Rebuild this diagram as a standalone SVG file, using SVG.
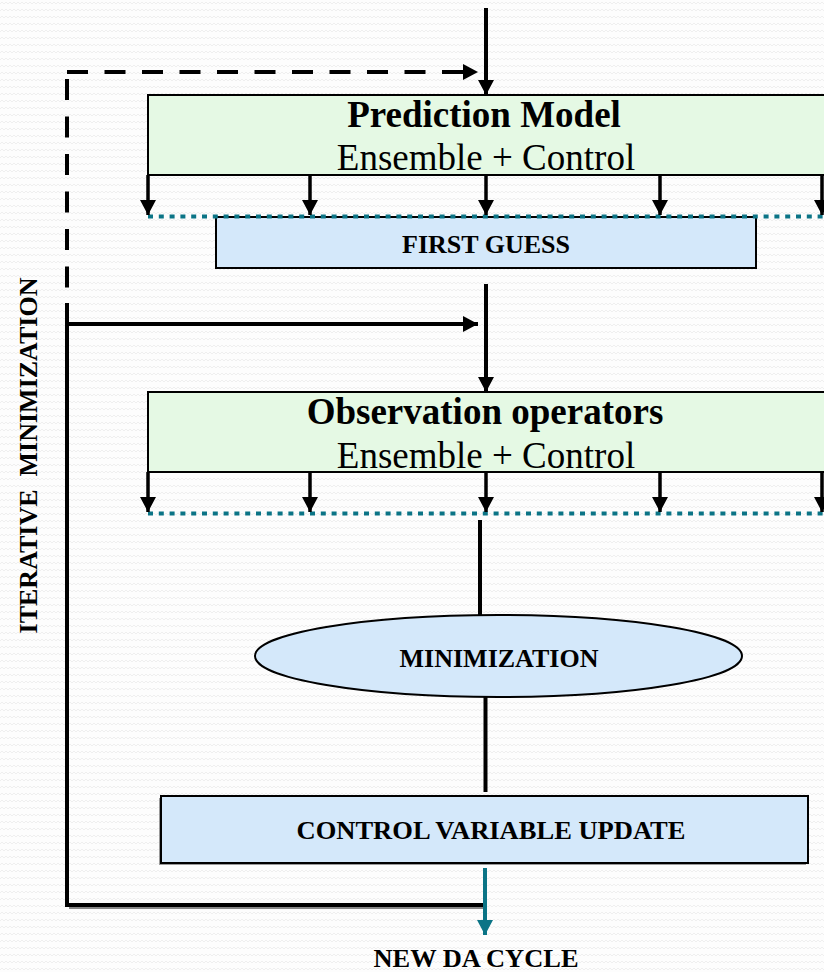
<svg xmlns="http://www.w3.org/2000/svg" width="824" height="972" viewBox="0 0 824 972">
  <defs>
    <pattern id="bgweave" width="8" height="7" patternUnits="userSpaceOnUse">
      <rect width="8" height="7" fill="#fdfdfd"/>
      <path d="M0,4 L2,2 L4,4 L6,2 L8,4" fill="none" stroke="#efefef" stroke-width="1"/>
    </pattern>
    <marker id="head" viewBox="0 0 15 16" refX="15" refY="8" markerWidth="15" markerHeight="16" markerUnits="userSpaceOnUse" orient="auto">
      <path d="M0,0 L15,8 L0,16 Z" fill="#000"/>
    </marker>
    <marker id="headTeal" viewBox="0 0 15 16" refX="15" refY="8" markerWidth="15" markerHeight="16" markerUnits="userSpaceOnUse" orient="auto">
      <path d="M0,0 L15,8 L0,16 Z" fill="#0b7486"/>
    </marker>
  </defs>
  <style>
    .title { font-family: "Liberation Serif", "Times New Roman", serif; font-weight: bold; font-size: 37px; fill: #000; }
    .sub { font-family: "Liberation Serif", "Times New Roman", serif; font-size: 37px; fill: #000; }
    .lbl { font-family: "Liberation Serif", "Times New Roman", serif; font-weight: bold; font-size: 26px; fill: #000; }
    .green { fill: #e5f9e4; stroke: #000; stroke-width: 2; }
    .blue { fill: #d4e8fa; stroke: #000; stroke-width: 2; }
    .wire { fill: none; stroke: #000; stroke-width: 4; }
    .dash { fill: none; stroke: #000; stroke-width: 4; stroke-dasharray: 21 16.5; }
    .dots { fill: none; stroke: #0b7486; stroke-width: 4; stroke-dasharray: 5 5.8; }
    .fan { fill: none; stroke: #000; stroke-width: 3.5; marker-end: url(#head); }
  </style>

  <rect width="824" height="972" fill="url(#bgweave)"/>

  <!-- side label -->
  <text class="lbl" transform="translate(37,455.5) rotate(-90)" text-anchor="middle" xml:space="preserve">ITERATIVE  MINIMIZATION</text>

  <g id="first-guess">
    <rect class="blue" x="216" y="217" width="540" height="51"/>
    <text class="lbl" x="486" y="253" text-anchor="middle">FIRST GUESS</text>
  </g>

  <g id="prediction-model">
    <rect class="green" x="148" y="95" width="690" height="80"/>
    <text class="title" x="484" y="127" text-anchor="middle">Prediction Model</text>
    <text class="sub" x="486" y="170" text-anchor="middle">Ensemble + Control</text>
  </g>

  <g id="observation-operators">
    <rect class="green" x="148" y="392" width="690" height="80"/>
    <text class="title" x="485" y="424" text-anchor="middle">Observation operators</text>
    <text class="sub" x="486" y="468" text-anchor="middle">Ensemble + Control</text>
  </g>

  <g id="minimization">
    <ellipse class="blue" cx="498.5" cy="656" rx="243.5" ry="41"/>
    <text class="lbl" x="499" y="667" text-anchor="middle">MINIMIZATION</text>
  </g>

  <g id="control-variable-update">
    <rect x="159" y="798" width="647" height="67" fill="#9a9a9a"/>
    <rect class="blue" x="161" y="796" width="647" height="67"/>
    <text class="lbl" x="491" y="839" text-anchor="middle" textLength="389" lengthAdjust="spacingAndGlyphs">CONTROL VARIABLE UPDATE</text>
  </g>

  <g id="new-da-cycle">
    <text class="lbl" x="476" y="967" text-anchor="middle" textLength="205" lengthAdjust="spacingAndGlyphs">NEW DA CYCLE</text>
  </g>

  <g id="connectors">
    <!-- ensemble spread lines -->
    <path class="dots" d="M148,216.5 H824"/>
    <path class="dots" d="M148,513.5 H824"/>

    <!-- input into prediction model -->
    <path class="wire" d="M486,8 V95" marker-end="url(#head)"/>

    <!-- dashed outer iteration loop -->
    <path class="dash" d="M67,72 H463"/>
    <path d="M463,64 L478,72 L463,80 Z" fill="#000"/>
    <path class="dash" d="M67,79 V288"/>

    <!-- prediction model fan-out -->
    <path class="fan" d="M148,175 V215"/>
    <path class="fan" d="M310,175 V215"/>
    <path class="fan" d="M486,175 V215"/>
    <path class="fan" d="M660,175 V215"/>
    <path class="fan" d="M822,175 V215"/>

    <!-- first guess to observation operators -->
    <path class="wire" d="M486,284 V392" marker-end="url(#head)"/>

    <!-- inner iteration loop -->
    <path d="M69,907 H486" fill="none" stroke="#888" stroke-width="4"/>
    <path class="wire" d="M67,303 V905 H486"/>
    <path class="wire" d="M67,324 H478" marker-end="url(#head)"/>

    <!-- observation operators fan-out -->
    <path class="fan" d="M148,472 V512"/>
    <path class="fan" d="M310,472 V512"/>
    <path class="fan" d="M486,472 V512"/>
    <path class="fan" d="M660,472 V512"/>
    <path class="fan" d="M822,472 V512"/>

    <!-- to and from minimization -->
    <path class="wire" d="M480,520 V615"/>
    <path class="wire" d="M485.5,697 V792"/>

    <!-- new cycle -->
    <path d="M485,868 V935" fill="none" stroke="#0b7486" stroke-width="4" marker-end="url(#headTeal)"/>
  </g>
</svg>
